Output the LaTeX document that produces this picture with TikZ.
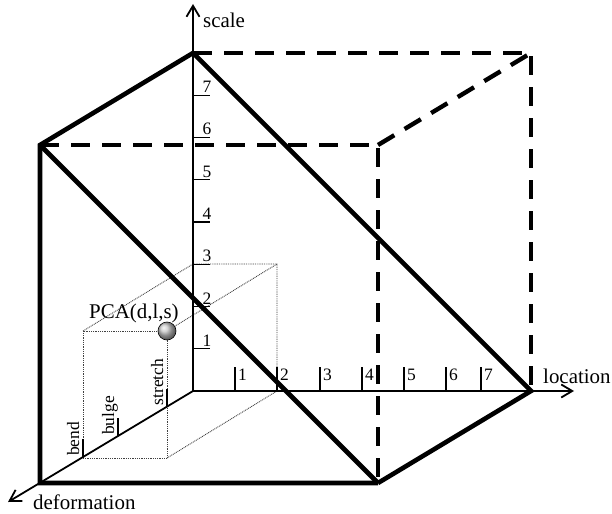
\documentclass[tikz,border=0pt]{standalone}
\usepackage{fontspec}
\setmainfont{Liberation Serif}
\usetikzlibrary{arrows.meta}
\begin{document}
\begin{tikzpicture}[x=1bp,y=-1bp,
  thickline/.style={line width=4.6bp, line join=miter},
  dashline/.style={line width=4.4bp, dash pattern=on 19bp off 12bp},
  axisline/.style={line width=1.8bp, -{Straight Barb[length=11bp,width=13bp,line width=1.8bp]}},
  tickline/.style={line width=1.3bp},
  dotline/.style={line width=0.9bp, dash pattern=on 0.9bp off 0.9bp, black!75},
  lbl/.style={font=\fontsize{21}{23}\selectfont, inner sep=0pt},
  num/.style={font=\fontsize{17.5}{19}\selectfont, inner sep=0pt},
]
\useasboundingbox (0,0) rectangle (612,514);
% big cube corners
\coordinate (O) at (193,391);
\coordinate (BTL) at (193,53);
\coordinate (BTR) at (531,53);
\coordinate (BBR) at (531,391);
\coordinate (FTL) at (40,145);
\coordinate (FTR) at (378,145);
\coordinate (FBL) at (40,483);
\coordinate (FBR) at (378,483);
% small box corners
\coordinate (b1) at (193,264);
\coordinate (b2) at (277,264);
\coordinate (b3) at (277,391);
\coordinate (f1) at (83,331);
\coordinate (f2) at (167,331);
\coordinate (f3) at (167,458);
\coordinate (f4) at (83,458);
% axis tips
\coordinate (ST) at (193,4);
\coordinate (LT) at (574,391);
\coordinate (DT) at (8,502);

% dotted box
\draw[dotline] (f4) -- (f1) -- (f2) -- (f3) -- (f4);
\draw[dotline] (f1) -- (b1) -- (b2) -- (b3) -- (f3);
\draw[dotline] (f2) -- (b2);

% axes
\draw[axisline] (O) -- (ST);
\draw[axisline] (O) -- (LT);
\draw[axisline] (O) -- (DT);

% scale ticks
\foreach \i in {1,...,7}{
  \draw[tickline] (193,391-42.25*\i) -- (210,391-42.25*\i);
  \node[num, anchor=base] (s\i) at (207,388.5-42.25*\i) {\i};
}
% location ticks
\foreach \i/\x in {1/235,2/277,3/320,4/362,5/404,6/446,7/481}{
  \draw[tickline] (\x,391) -- (\x,367);
  \node[num, anchor=base west] (l\i) at (\x+3,380) {\i};
}
% deformation ticks
\foreach \n/\x/\y in {bend/83/457,bulge/118/436,stretch/167/406.5}{
  \draw[tickline] (\x,\y) -- (\x,\y-18);
  \node[num, rotate=90, anchor=base west] (d\n) at (\x-4,\y-1) {\n};
}

% thick cube
\draw[dashline] (BTL) -- (BTR) -- (BBR);
\draw[dashline] (FTL) -- (FTR) -- (FBR);
\draw[dashline] (FTR) -- (BTR);
\draw[thickline] (FBR) -- (FBL) -- (FTL) -- (BTL);
\draw[thickline] (BTL) -- (BBR) -- (FBR);
\draw[thickline] (FTL) -- (FBR);

% point
\shade[ball color=gray!45, draw=black, line width=0.6bp] (f2) circle (9bp);
\node[lbl, anchor=base west] (pca) at (89,318) {PCA(d,l,s)};

% axis labels
\node[lbl, anchor=base west] (scl) at (203,28) {scale};
\node[lbl, anchor=base west] (loc) at (543,383) {location};
\node[lbl, anchor=base west] (def) at (33,509) {deformation};
\end{tikzpicture}
\end{document}
